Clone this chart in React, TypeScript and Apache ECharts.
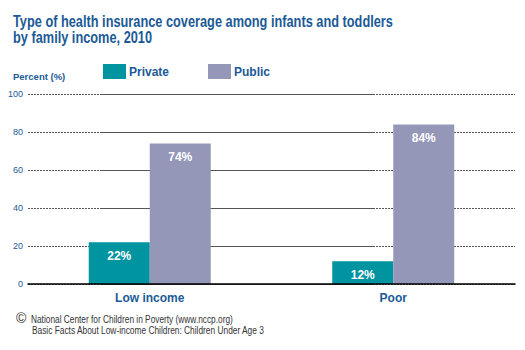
import React, { useEffect, useRef } from "react";
import * as echarts from "echarts";

const categories = ["Low income", "Poor"];
const privateValues = [22, 12];
const publicValues = [74, 84];
const seriesNames = ["Private", "Public"];
const yTicks = { min: 0, max: 100, interval: 20 };

const TITLE1 = "Type of health insurance coverage among infants and toddlers";
const TITLE2 = "by family income, 2010";
const YNAME = "Percent (%)";
const SOURCE1 = "National Center for Children in Poverty (www.nccp.org)";
const SOURCE2 = "Basic Facts About Low-income Children: Children Under Age 3";

const BLUE = "#1b5a96";
const TEAL = "#0093a0";
const LAV = "#9597b9";
const FONT = "'Liberation Sans', Arial, sans-serif";

function measure(text: string, font: string): number {
  const c = document.createElement("canvas");
  const ctx = c.getContext("2d");
  if (!ctx) return text.length * 7;
  ctx.font = font;
  return ctx.measureText(text).width;
}

export default function App() {
  const ref = useRef<HTMLDivElement>(null);
  useEffect(() => {
    if (!ref.current) return;
    const chart = echarts.init(ref.current, null, { renderer: "svg" });
    const titleFont = `bold 16px ${FONT}`;
    const titleScale = 380 / measure(TITLE1, titleFont);
    const srcFont = `10px ${FONT}`;
    const src1Scale = 202 / measure(SOURCE1, srcFont);
    const src2Scale = 233 / measure(SOURCE2, srcFont);
    const label = {
      show: true,
      position: "insideTop" as const,
      distance: 8,
      color: "#ffffff",
      fontWeight: "bold" as const,
      fontSize: 12,
      fontFamily: FONT,
      formatter: (p: any) => p.value + "%",
    };
    chart.setOption({
      animation: false,
      backgroundColor: "#ffffff",
      textStyle: { fontFamily: FONT },
      legend: {
        data: seriesNames,
        left: 98,
        top: 59,
        itemWidth: 23,
        itemHeight: 15,
        itemGap: 39,
        icon: "rect",
        textStyle: { color: BLUE, fontSize: 12, fontWeight: "bold", fontFamily: FONT, padding: [0, 0, 0, -2] },
      },
      graphic: [
        {
          type: "text",
          x: 13,
          y: 13,
          scaleX: titleScale,
          style: { text: TITLE1, fill: BLUE, font: titleFont, verticalAlign: "top" },
        },
        {
          type: "text",
          x: 13,
          y: 29,
          scaleX: titleScale,
          style: { text: TITLE2, fill: BLUE, font: titleFont, verticalAlign: "top" },
        },
        {
          type: "text",
          x: 13,
          y: 71,
          style: { text: YNAME, fill: BLUE, font: `bold 9.5px ${FONT}`, verticalAlign: "top" },
        },
        {
          type: "text",
          x: 16,
          y: 311,
          style: { text: "©", fill: "#333", font: `14px ${FONT}`, verticalAlign: "top" },
        },
        {
          type: "text",
          x: 31,
          y: 315,
          scaleX: src1Scale,
          style: { text: SOURCE1, fill: "#333", font: srcFont, verticalAlign: "top" },
        },
        {
          type: "text",
          x: 32,
          y: 326,
          scaleX: src2Scale,
          style: { text: SOURCE2, fill: "#333", font: srcFont, verticalAlign: "top" },
        },
      ],
      grid: [
        { left: 28, right: 10, top: 94, bottom: 66 },
        { left: 100, right: 152, top: 94, bottom: 66 },
      ],
      xAxis: [
        {
          type: "category",
          gridIndex: 0,
          data: categories,
          axisLine: { show: true, lineStyle: { color: "#000", width: 1.5 } },
          axisTick: { show: false },
          axisLabel: { color: BLUE, fontSize: 12, fontWeight: "bold", fontFamily: FONT, margin: 8 },
          z: 5,
        },
        { type: "value", gridIndex: 1, show: false },
      ],
      yAxis: [
        {
          type: "value",
          gridIndex: 0,
          min: yTicks.min,
          max: yTicks.max,
          interval: yTicks.interval,
          axisLine: { show: false },
          axisTick: { show: false },
          axisLabel: { color: BLUE, fontSize: 9, fontFamily: FONT, margin: 5 },
          splitLine: { lineStyle: { color: "#555", type: [2, 1], width: 1 } },
        },
        {
          type: "value",
          gridIndex: 1,
          min: yTicks.min,
          max: yTicks.max,
          interval: yTicks.interval,
          axisLine: { show: false },
          axisTick: { show: false },
          axisLabel: { show: false },
          splitLine: { lineStyle: { color: "#555", type: "solid", width: 1 } },
        },
      ],
      series: [
        {
          name: seriesNames[0],
          type: "bar",
          data: privateValues,
          barWidth: 61,
          barGap: "0%",
          itemStyle: { color: TEAL },
          label,
          z: 3,
        },
        {
          name: seriesNames[1],
          type: "bar",
          data: publicValues,
          barWidth: 61,
          barGap: "0%",
          itemStyle: { color: LAV },
          label,
          z: 3,
        },
      ],
    });
    return () => chart.dispose();
  }, []);
  return <div ref={ref} style={{ width: 525, height: 350, position: "absolute", left: 0, top: 0 }} />;
}
